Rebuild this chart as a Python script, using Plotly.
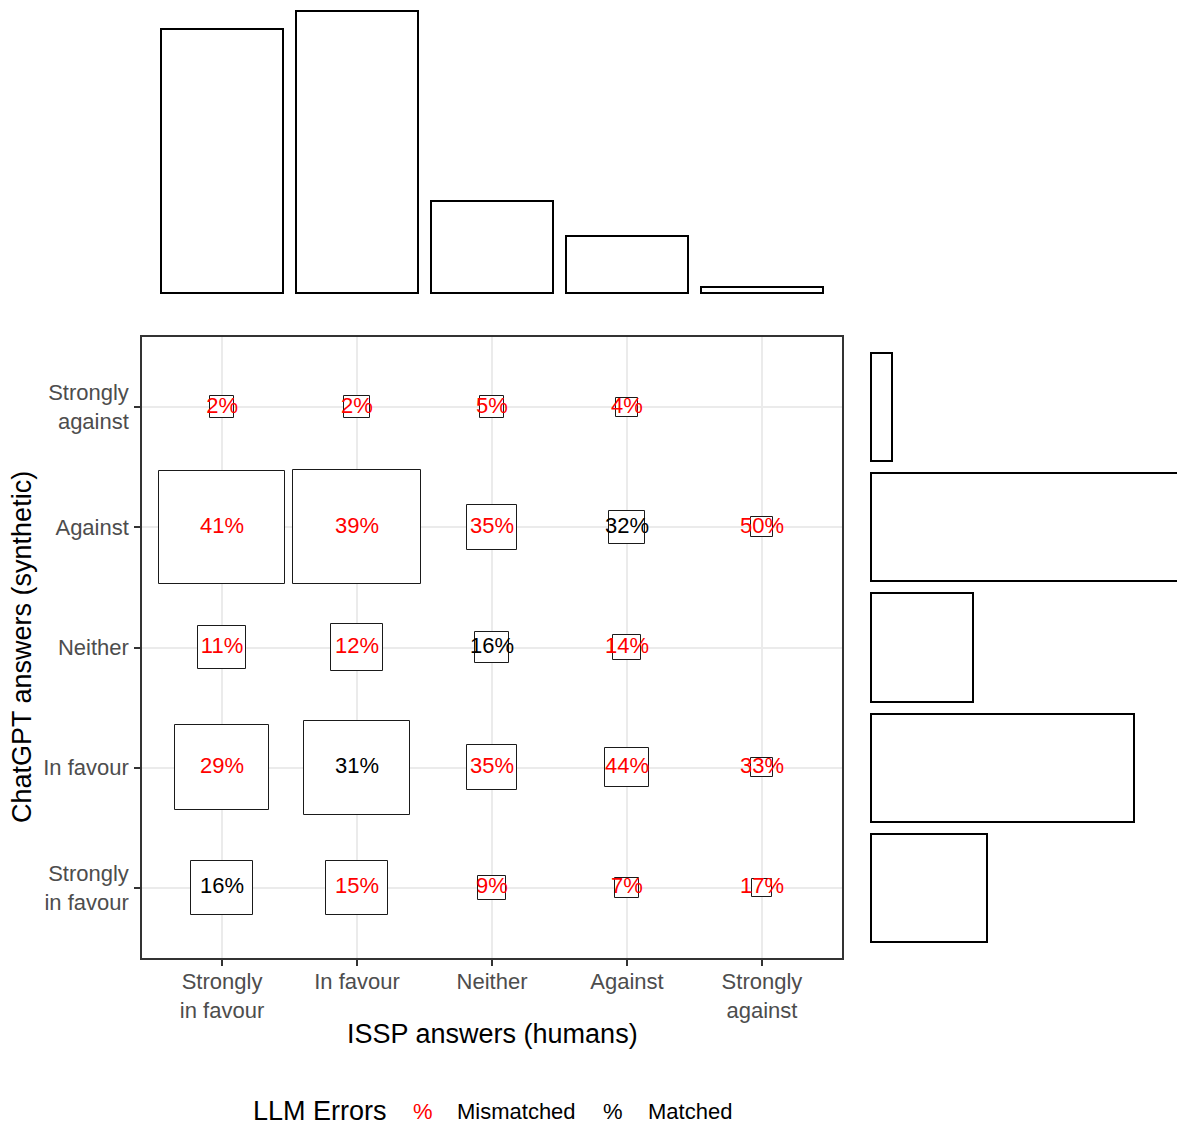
import plotly.graph_objects as go

# ---------------- data ----------------
issp_labels = ["Strongly<br>in favour", "In favour", "Neither", "Against", "Strongly<br>against"]
gpt_labels = ["Strongly<br>in favour", "In favour", "Neither", "Against", "Strongly<br>against"]

# estimated counts: rows = ChatGPT answer, columns = ISSP answer
counts_gpt_sif = [43, 43, 8, 4, 1]
counts_gpt_if = [77, 88, 32, 25, 2]
counts_gpt_neither = [30, 34, 15, 8, 0]
counts_gpt_against = [109, 111, 32, 18, 3]
counts_gpt_sa = [5, 6, 5, 2, 0]
counts = [counts_gpt_sif, counts_gpt_if, counts_gpt_neither, counts_gpt_against, counts_gpt_sa]

# ---------------- derived ----------------
ncol = len(issp_labels)
nrow = len(gpt_labels)
col_totals = [sum(counts[r][c] for r in range(nrow)) for c in range(ncol)]
row_totals = [sum(counts[r]) for r in range(nrow)]

FONT = "Liberation Sans"
OFF = 8  # page body margin
W, H = 1185 - OFF, 1127 - OFF


def px_x(p):
    return (p - OFF) / W


def px_y(p):
    return 1 - (p - OFF) / H


def tile_size(n):
    return 0.143 + 0.00727 * n


tx, ty, tw, tb = [], [], [], []
lx, ly, ltxt, lcol = [], [], [], []
for r in range(nrow):
    for c in range(ncol):
        n = counts[r][c]
        if n == 0:
            continue
        s = tile_size(n)
        tx.append(c)
        tw.append(s)
        ty.append(s)
        tb.append(r - s / 2)
        pct = round(100 * n / col_totals[c])
        lx.append(c)
        ly.append(r)
        ltxt.append(f"{pct}%")
        lcol.append("black" if r == c else "#FF0000")

main_xdom = [px_x(142), px_x(842)]
main_ydom = [px_y(958), px_y(337)]
xr = [-0.593, 4.593]
yr = [-0.583, 4.583]

fig = go.Figure()
fig.add_trace(go.Bar(
    x=tx, y=ty, base=tb, width=tw,
    marker=dict(color="white", line=dict(color="#1a1a1a", width=1)),
    xaxis="x", yaxis="y", showlegend=False, hoverinfo="skip"))
fig.add_trace(go.Scatter(
    x=lx, y=ly, text=ltxt, mode="text",
    textfont=dict(family=FONT, size=22, color=lcol),
    xaxis="x", yaxis="y", showlegend=False, hoverinfo="skip"))

# top marginal (ISSP answers)
fig.add_trace(go.Bar(
    x=list(range(ncol)), y=col_totals, width=0.9,
    marker=dict(color="white", line=dict(color="black", width=2)),
    xaxis="x2", yaxis="y2", showlegend=False, hoverinfo="skip"))
# right marginal (ChatGPT answers)
fig.add_trace(go.Bar(
    y=list(range(nrow)), x=row_totals, width=0.9, orientation="h",
    marker=dict(color="white", line=dict(color="black", width=2)),
    xaxis="x3", yaxis="y3", showlegend=False, hoverinfo="skip"))

axis_common = dict(
    showline=True, mirror=True, linecolor="#333333", linewidth=1.5,
    ticks="outside", ticklen=6, tickwidth=1.5, tickcolor="#333333",
    showgrid=True, gridcolor="#EBEBEB", gridwidth=2, zeroline=False,
    tickfont=dict(family=FONT, size=22, color="#4D4D4D"),
)

kx = 1.174
fig.update_layout(
    width=W, height=H,
    margin=dict(l=0, r=0, t=0, b=0),
    plot_bgcolor="white", paper_bgcolor="white",
    font=dict(family=FONT),
    xaxis=dict(domain=main_xdom, range=xr, tickmode="array",
               tickvals=list(range(ncol)), ticktext=issp_labels,
               ticklabelstandoff=-3, **axis_common),
    yaxis=dict(domain=main_ydom, range=yr, tickmode="array",
               tickvals=list(range(nrow)), ticktext=gpt_labels,
               ticklabelstandoff=1, **axis_common),
    xaxis2=dict(domain=main_xdom, range=xr, visible=False, anchor="y2"),
    yaxis2=dict(domain=[px_y(295), 1], range=[-2, 293 - OFF], visible=False, anchor="x2"),
    xaxis3=dict(domain=[px_x(868), 1], range=[-3 / kx, 314 / kx], visible=False, anchor="y3"),
    yaxis3=dict(domain=main_ydom, range=yr, visible=False, anchor="x3"),
    bargap=0,
)

ann = []
ann.append(dict(x=px_x(492), y=px_y(1034), xref="paper", yref="paper",
                text="ISSP answers (humans)", showarrow=False,
                font=dict(family=FONT, size=27, color="black"),
                xanchor="center", yanchor="middle"))
ann.append(dict(x=px_x(22), y=px_y(647), xref="paper", yref="paper",
                text="ChatGPT answers (synthetic)", showarrow=False, textangle=-90,
                font=dict(family=FONT, size=27, color="black"),
                xanchor="center", yanchor="middle"))
# legend
ann.append(dict(x=px_x(251), y=px_y(1111), xref="paper", yref="paper",
                text="LLM Errors", showarrow=False,
                font=dict(family=FONT, size=27, color="black"),
                xanchor="left", yanchor="middle"))
legend_items = [("%", "#FF0000", 411), ("Mismatched", "black", 455),
                ("%", "black", 601), ("Matched", "black", 646)]
for txt, col, xp in legend_items:
    ann.append(dict(x=px_x(xp), y=px_y(1111), xref="paper", yref="paper",
                    text=txt, showarrow=False,
                    font=dict(family=FONT, size=22, color=col),
                    xanchor="left", yanchor="middle"))
fig.update_layout(annotations=ann)

fig.write_html("out.html")
